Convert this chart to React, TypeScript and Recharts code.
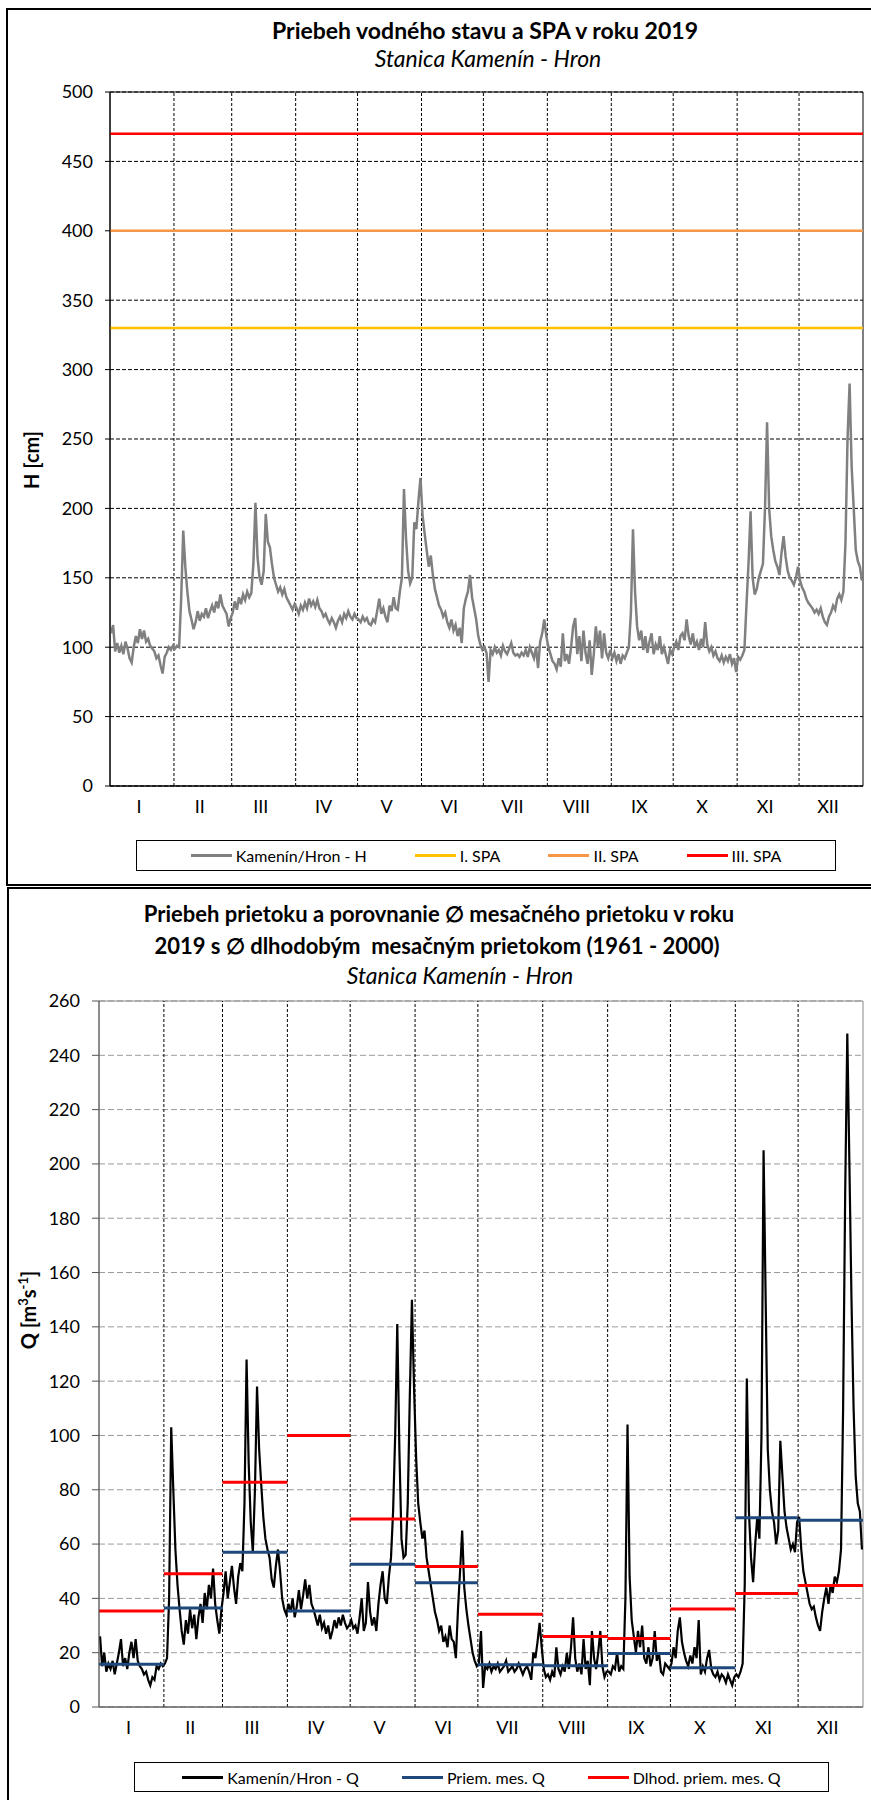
import React from "react";
import {
  LineChart,
  Line,
  XAxis,
  YAxis,
  CartesianGrid,
  ReferenceLine,
  ReferenceArea,
} from "recharts";

const monthLabels = ["I", "II", "III", "IV", "V", "VI", "VII", "VIII", "IX", "X", "XI", "XII"];
const monthDays = [31, 28, 31, 30, 31, 30, 31, 31, 30, 31, 30, 31];

// daily water stage H [cm], Kamenín - Hron, 2019
const stageH = [
  110, 116, 97, 103, 96, 101, 95, 104, 99, 92, 89, 100, 108, 103, 113, 106, 112, 104, 106, 101, 99, 97, 92, 94, 87, 81, 93, 96, 100, 98, 101,
  99, 101, 100, 135, 184, 158, 140, 126, 120, 113, 118, 126, 119, 124, 122, 128, 121, 126, 130, 125, 133, 128, 138, 130, 127, 124, 115, 121,
  125, 133, 127, 136, 131, 138, 134, 140, 136, 139, 160, 204, 165, 150, 145, 155, 196, 176, 172, 160, 150, 145, 140, 143, 138, 142, 136, 133, 130, 127, 131,
  128, 124, 130, 127, 132, 128, 135, 130, 133, 129, 134, 128, 126, 122, 124, 120, 117, 121, 118, 114, 119, 122, 118, 124, 121, 126, 122, 120, 124, 121,
  120, 118, 122, 119, 121, 117, 116, 120, 118, 126, 135, 124, 128, 122, 118, 130, 126, 136, 128, 127, 140, 150, 214, 178, 155, 146, 150, 190, 185, 205, 222,
  195, 182, 170, 158, 166, 152, 142, 136, 130, 127, 122, 125, 118, 114, 120, 112, 116, 108, 114, 103, 128, 135, 140, 152, 136, 128, 120, 108, 102, 98,
  100, 96, 75, 98, 95, 100, 96, 98, 94, 101, 97, 95, 99, 103, 96, 94, 95, 93, 96, 94, 98, 93, 100, 96, 92, 100, 85, 104, 110, 120, 108,
  100, 95, 90, 88, 84, 92, 86, 110, 90, 95, 88, 100, 115, 121, 95, 108, 90, 112, 96, 88, 105, 80, 95, 115, 100, 112, 92, 110, 96, 92, 98,
  92, 96, 90, 95, 88, 94, 92, 96, 100, 125, 185, 140, 115, 105, 112, 98, 108, 96, 104, 110, 95, 102, 98, 108, 95, 100, 94, 88, 98, 95,
  100, 104, 98, 108, 110, 105, 120, 108, 102, 110, 100, 104, 98, 106, 100, 118, 102, 97, 100, 94, 97, 92, 90, 94, 89, 93, 90, 95, 88, 92, 82,
  93, 91, 94, 98, 130, 160, 198, 150, 138, 142, 150, 155, 160, 200, 262, 200, 180, 170, 162, 158, 152, 168, 180, 165, 155, 150, 148, 145, 150, 158,
  148, 143, 140, 135, 132, 130, 128, 125, 127, 124, 128, 122, 118, 116, 122, 125, 130, 127, 135, 138, 134, 140, 175, 250, 290, 230, 200, 170, 162, 158, 148,
];

// daily discharge Q [m3/s]
const flowQ = [
  26, 15, 20, 13, 16, 14, 17, 12, 16, 20, 25, 15, 18, 14, 20, 24, 18, 25, 17, 15, 14, 12, 13, 10, 8, 11, 10, 15, 14, 16, 15,
  16, 18, 40, 103, 80, 58, 45, 36, 28, 23, 32, 27, 36, 29, 34, 25, 33, 38, 31, 42, 36, 45, 40, 51, 38, 32, 27, 36,
  42, 50, 40, 46, 52, 44, 38, 48, 53, 50, 75, 128, 90, 68, 57, 80, 118, 95, 82, 70, 62, 58, 55, 47, 44, 52, 58, 50, 40, 36, 34,
  38, 35, 40, 33, 37, 43, 36, 41, 47, 40, 45, 38, 36, 33, 30, 34, 29, 31, 27, 30, 25, 28, 32, 29, 33, 30, 34, 31, 29, 30,
  32, 29, 30, 27, 33, 40, 28, 31, 46, 35, 30, 33, 28, 38, 45, 50, 40, 38, 48, 55, 72, 100, 141, 95, 62, 55, 56, 75, 115, 150, 118,
  92, 75, 68, 62, 65, 55, 50, 45, 40, 35, 32, 28, 30, 24, 26, 22, 30, 25, 24, 18, 36, 50, 65, 44, 36, 30, 25, 20, 17, 15,
  16, 28, 7, 15, 14, 16, 13, 15, 14, 16, 13, 14, 15, 17, 13, 14, 15, 13, 14, 16, 14, 12, 14, 15, 13, 10, 20, 18, 24, 31, 22,
  14, 11, 12, 10, 13, 11, 22, 14, 12, 15, 13, 20, 14, 22, 33, 18, 13, 16, 12, 25, 14, 17, 8, 28, 18, 14, 20, 28, 15, 11, 13,
  13, 12, 15, 14, 20, 13, 15, 14, 40, 104, 48, 32, 26, 20, 28, 22, 30, 18, 16, 22, 15, 18, 28, 17, 20, 13, 12, 16, 15, 14,
  16, 22, 18, 28, 33, 24, 20, 17, 15, 19, 16, 22, 18, 32, 12, 15, 13, 18, 21, 14, 12, 11, 13, 10, 12, 11, 9, 12, 10, 8, 11,
  12, 11, 13, 16, 45, 121, 72, 55, 46, 60, 70, 62, 100, 205, 150, 95, 80, 72, 68, 60, 65, 98, 85, 72, 66, 62, 58, 60, 57, 68,
  70, 58, 50, 46, 42, 38, 36, 37, 33, 30, 28, 35, 40, 44, 38, 45, 42, 48, 46, 50, 58, 110, 190, 248, 200, 150, 110, 85, 75, 72, 58,
];

const flowMonthMean = [15.7, 36.5, 57.0, 35.4, 52.6, 45.8, 15.6, 15.2, 19.7, 14.5, 69.7, 68.8];
const flowLongTermMean = [35.4, 49.1, 82.8, 100, 69.2, 51.7, 34.2, 26.0, 25.2, 36.1, 41.8, 44.7];

const spaLevels = [330, 400, 470];
const spaNames = ["I. SPA", "II. SPA", "III. SPA"];
const spaColors = ["#FFC000", "#F79646", "#FF0000"];

const stageNames = ["Kamenín/Hron - H", ...spaNames];
const stageColors = ["#808080", ...spaColors];
const flowNames = ["Kamenín/Hron - Q", "Priem. mes. Q", "Dlhod. priem. mes. Q"];
const flowColors = ["#000000", "#1F497D", "#FF0000"];

const hTicks = [0, 50, 100, 150, 200, 250, 300, 350, 400, 450, 500];
const qTicks = [0, 20, 40, 60, 80, 100, 120, 140, 160, 180, 200, 220, 240, 260];

const monthStart = monthDays.map((_, i) => monthDays.slice(0, i).reduce((a, b) => a + b, 0));
const monthEnd = monthStart.map((s, i) => s + monthDays[i]);
const monthMid = monthStart.map((s, i) => s + monthDays[i] / 2);
const boundaries = monthEnd.slice(0, 11);

const stageRows = stageH.map((h, i) => ({ day: i + 0.5, h }));
const flowRows = flowQ.map((q, i) => ({ day: i + 0.5, q }));
const stepRows = (vals: number[]) =>
  vals.flatMap((v, i) => [
    { day: monthStart[i], v },
    { day: monthEnd[i], v },
    { day: monthEnd[i], v: null },
  ]);

const FONT = "Lato, 'Open Sans', sans-serif";

const BoxLegend = ({ names, colors, gap, left, top, width, height }: any) => (
  <div
    style={{
      position: "absolute",
      left,
      top,
      width,
      height,
      border: "1px solid #000",
      background: "#fff",
      boxSizing: "border-box",
      display: "flex",
      alignItems: "center",
      justifyContent: "center",
      gap,
      fontSize: 16,
      color: "#000",
    }}
  >
    {names.map((n: string, i: number) => (
      <div key={n} style={{ display: "flex", alignItems: "center" }}>
        <span style={{ display: "inline-block", width: 41, height: 3, background: colors[i], marginRight: 4 }} />
        <span>{n}</span>
      </div>
    ))}
  </div>
);

const monthTick = (v: number) => monthLabels[monthMid.indexOf(v)] ?? "";

const centered = (cx: number, top: number, style: React.CSSProperties, text: React.ReactNode) => (
  <div
    style={{
      position: "absolute",
      left: cx - 400,
      width: 800,
      top,
      textAlign: "center",
      lineHeight: 1.2,
      whiteSpace: "pre",
      ...style,
    }}
  >
    {text}
  </div>
);

const StageChart = () => (
  <LineChart width={871} height={890} data={stageRows} margin={{ top: 92, right: 8, bottom: 74, left: 50 }}>
    <CartesianGrid vertical={false} stroke="#000" strokeDasharray="4 2" />
    {boundaries.map((b) => (
      <ReferenceLine key={b} x={b} stroke="#000" strokeDasharray="3 2" />
    ))}
    <XAxis
      dataKey="day"
      type="number"
      domain={[0, 365]}
      ticks={monthMid}
      interval={0}
      tickFormatter={monthTick}
      tickLine={false}
      tickSize={0}
      tickMargin={14}
      height={30}
      axisLine={{ stroke: "#000" }}
      tick={{ fill: "#000", fontSize: 18, dx: -3 }}
    />
    <YAxis
      type="number"
      domain={[0, 500]}
      ticks={hTicks}
      interval={0}
      width={60}
      tickSize={5}
      tickMargin={12}
      axisLine={{ stroke: "#000" }}
      tickLine={{ stroke: "#000" }}
      tick={{ fill: "#000", fontSize: 18 }}
    />
    <ReferenceArea x1={0} x2={365} y1={0} y2={500} fill="none" stroke="#000" strokeWidth={1} />
    <Line
      dataKey="h"
      name={stageNames[0]}
      stroke={stageColors[0]}
      strokeWidth={2.5}
      dot={false}
      isAnimationActive={false}
    />
    {spaLevels.map((lv, i) => (
      <Line
        key={spaNames[i]}
        data={[
          { day: 0, v: lv },
          { day: 365, v: lv },
        ]}
        dataKey="v"
        name={spaNames[i]}
        stroke={spaColors[i]}
        strokeWidth={2.5}
        dot={false}
        isAnimationActive={false}
      />
    ))}
  </LineChart>
);

const FlowChart = () => (
  <LineChart width={871} height={913} data={flowRows} margin={{ top: 114, right: 8, bottom: 63, left: 39 }}>
    <CartesianGrid vertical={false} stroke="#9a9a9a" strokeDasharray="6 3" />
    {boundaries.map((b) => (
      <ReferenceLine key={b} x={b} stroke="#000" strokeDasharray="3 2" />
    ))}
    <XAxis
      dataKey="day"
      type="number"
      domain={[0, 365]}
      ticks={monthMid}
      interval={0}
      tickFormatter={monthTick}
      tickLine={false}
      tickSize={0}
      tickMargin={14}
      height={30}
      axisLine={{ stroke: "#555" }}
      tick={{ fill: "#000", fontSize: 18, dx: -3 }}
    />
    <YAxis
      type="number"
      domain={[0, 260]}
      ticks={qTicks}
      interval={0}
      width={60}
      tickSize={7}
      tickMargin={12}
      axisLine={{ stroke: "#555" }}
      tickLine={{ stroke: "#555" }}
      tick={{ fill: "#000", fontSize: 18 }}
    />
    <ReferenceArea x1={0} x2={365} y1={0} y2={260} fill="none" stroke="#888" strokeWidth={1} />
    <Line
      dataKey="q"
      name={flowNames[0]}
      stroke={flowColors[0]}
      strokeWidth={2.2}
      dot={false}
      isAnimationActive={false}
    />
    <Line
      data={stepRows(flowMonthMean)}
      dataKey="v"
      name={flowNames[1]}
      stroke={flowColors[1]}
      strokeWidth={3}
      dot={false}
      isAnimationActive={false}
    />
    <Line
      data={stepRows(flowLongTermMean)}
      dataKey="v"
      name={flowNames[2]}
      stroke={flowColors[2]}
      strokeWidth={3}
      dot={false}
      isAnimationActive={false}
    />
  </LineChart>
);

const axisTitle = (cx: number, cy: number, w: number, content: React.ReactNode) => (
  <div
    style={{
      position: "absolute",
      left: cx - w / 2,
      top: cy - 12,
      width: w,
      height: 24,
      lineHeight: "24px",
      textAlign: "center",
      fontSize: 20,
      fontWeight: 700,
      transform: "rotate(-90deg)",
      whiteSpace: "nowrap",
    }}
  >
    {content}
  </div>
);

const sup: React.CSSProperties = { fontSize: 13, lineHeight: 0 };

export default function App() {
  return (
    <div
      style={{
        position: "absolute",
        left: 0,
        top: 0,
        width: 871,
        height: 1800,
        overflow: "hidden",
        background: "#fff",
        fontFamily: FONT,
        color: "#000",
      }}
    >
      {/* outer frames */}
      <div style={{ position: "absolute", left: 6, top: 8, width: 880, height: 878, border: "2px solid #000", boxSizing: "border-box" }} />
      <div style={{ position: "absolute", left: 7, top: 887, width: 880, height: 940, border: "2px solid #000", boxSizing: "border-box" }} />

      <div style={{ position: "absolute", left: 0, top: 0 }}>
        <StageChart />
      </div>
      <div style={{ position: "absolute", left: 0, top: 887 }}>
        <FlowChart />
      </div>

      <BoxLegend names={stageNames} colors={stageColors} gap={48} left={136} top={840} width={700} height={31} />
      <BoxLegend names={flowNames} colors={flowColors} gap={43} left={134} top={1762} width={695} height={30} />

      {centered(485, 17, { fontSize: 23, fontWeight: 700 }, "Priebeh vodného stavu a SPA v roku 2019")}
      {centered(488, 45, { fontSize: 23, fontStyle: "italic" }, "Stanica Kamenín - Hron")}

      {centered(439, 901, { fontSize: 22, fontWeight: 700 }, "Priebeh prietoku a porovnanie \u2205 mesačného prietoku v roku")}
      {centered(437, 933, { fontSize: 22, fontWeight: 700 }, "2019 s \u2205 dlhodobým  mesačným prietokom (1961 - 2000)")}
      {centered(460, 962, { fontSize: 23, fontStyle: "italic" }, "Stanica Kamenín - Hron")}

      {axisTitle(31, 460, 120, "H [cm]")}
      {axisTitle(28, 1310, 150, (
        <>
          Q [m<sup style={sup}>3</sup>s<sup style={sup}>-1</sup>]
        </>
      ))}
    </div>
  );
}
